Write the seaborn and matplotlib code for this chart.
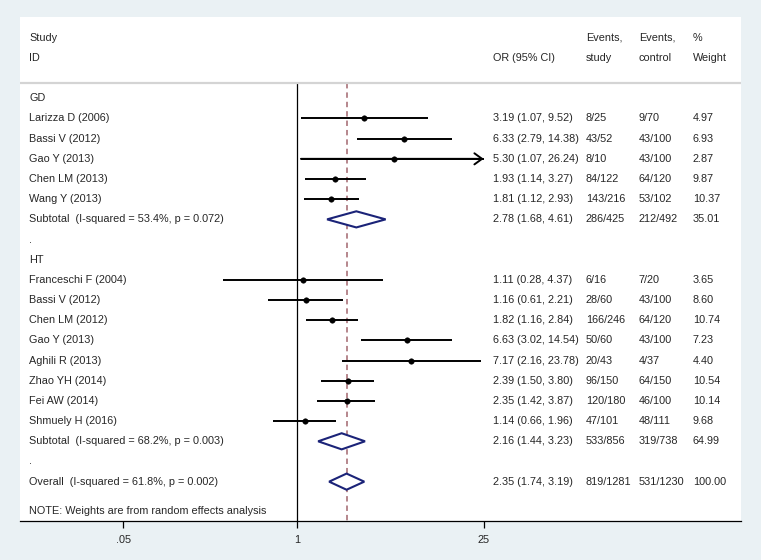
import numpy as np
import pandas as pd
import matplotlib
matplotlib.use('Agg')
import matplotlib.pyplot as plt
import seaborn as sns

# study level data
gd_names = ['Larizza D (2006)', 'Bassi V (2012)', 'Gao Y (2013)', 'Chen LM (2013)', 'Wang Y (2013)']
gd_or = [3.19, 6.33, 5.30, 1.93, 1.81]
gd_lo = [1.07, 2.79, 1.07, 1.14, 1.12]
gd_hi = [9.52, 14.38, 26.24, 3.27, 2.93]
gd_ev_study = ['8/25', '43/52', '8/10', '84/122', '143/216']
gd_ev_ctrl = ['9/70', '43/100', '43/100', '64/120', '53/102']
gd_weight = [4.97, 6.93, 2.87, 9.87, 10.37]

ht_names = ['Franceschi F (2004)', 'Bassi V (2012)', 'Chen LM (2012)', 'Gao Y (2013)', 'Aghili R (2013)',
            'Zhao YH (2014)', 'Fei AW (2014)', 'Shmuely H (2016)']
ht_or = [1.11, 1.16, 1.82, 6.63, 7.17, 2.39, 2.35, 1.14]
ht_lo = [0.28, 0.61, 1.16, 3.02, 2.16, 1.50, 1.42, 0.66]
ht_hi = [4.37, 2.21, 2.84, 14.54, 23.78, 3.80, 3.87, 1.96]
ht_ev_study = ['6/16', '28/60', '166/246', '50/60', '20/43', '96/150', '120/180', '47/101']
ht_ev_ctrl = ['7/20', '43/100', '64/120', '43/100', '4/37', '64/150', '46/100', '48/111']
ht_weight = [3.65, 8.60, 10.74, 7.23, 4.40, 10.54, 10.14, 9.68]

# pooled estimates
pooled_labels = ['Subtotal  (I-squared = 53.4%, p = 0.072)',
                 'Subtotal  (I-squared = 68.2%, p = 0.003)',
                 'Overall  (I-squared = 61.8%, p = 0.002)']
pooled_or = [2.78, 2.16, 2.35]
pooled_lo = [1.68, 1.44, 1.74]
pooled_hi = [4.61, 3.23, 3.19]
pooled_ev_study = ['286/425', '533/856', '819/1281']
pooled_ev_ctrl = ['212/492', '319/738', '531/1230']
pooled_weight = [35.01, 64.99, 100.00]

x_ticks = [0.05, 1, 25]
x_ticklabels = ['.05', '1', '25']

# build row table
rows = []
rows.append(dict(kind='head', label='GD'))
for i in range(len(gd_names)):
    rows.append(dict(kind='study', label=gd_names[i], est=gd_or[i], lo=gd_lo[i], hi=gd_hi[i],
                     es=gd_ev_study[i], ec=gd_ev_ctrl[i], w=gd_weight[i]))
rows.append(dict(kind='pool', label=pooled_labels[0], est=pooled_or[0], lo=pooled_lo[0], hi=pooled_hi[0],
                 es=pooled_ev_study[0], ec=pooled_ev_ctrl[0], w=pooled_weight[0]))
rows.append(dict(kind='head', label='.'))
rows.append(dict(kind='head', label='HT'))
for i in range(len(ht_names)):
    rows.append(dict(kind='study', label=ht_names[i], est=ht_or[i], lo=ht_lo[i], hi=ht_hi[i],
                     es=ht_ev_study[i], ec=ht_ev_ctrl[i], w=ht_weight[i]))
rows.append(dict(kind='pool', label=pooled_labels[1], est=pooled_or[1], lo=pooled_lo[1], hi=pooled_hi[1],
                 es=pooled_ev_study[1], ec=pooled_ev_ctrl[1], w=pooled_weight[1]))
rows.append(dict(kind='head', label='.'))
rows.append(dict(kind='pool', label=pooled_labels[2], est=pooled_or[2], lo=pooled_lo[2], hi=pooled_hi[2],
                 es=pooled_ev_study[2], ec=pooled_ev_ctrl[2], w=pooled_weight[2]))
df = pd.DataFrame(rows)
df['row'] = np.arange(len(df))

sns.set_style('white')
plt.rcParams['font.family'] = ['Liberation Sans', 'DejaVu Sans']
FS = 7.8

W, H = 761, 560
fig = plt.figure(figsize=(W / 100, H / 100), dpi=100, facecolor='#eaf1f4')
ax = fig.add_axes([20 / W, 39 / H, 721 / W, 504 / H])
ax.set_facecolor('white')

# x: log scale, 58 px per ln unit, OR=1 at px 297
ax.set_xscale('log')
ax.set_xlim(np.exp((20 - 297) / 58), np.exp((741 - 297) / 58))
ax.set_ylim(20.95, -4.03)

xmax_tick = max(x_ticks)
studies = df[df.kind == 'study']
hi_clip = np.minimum(studies.hi, xmax_tick)
ax.hlines(studies.row, studies.lo, hi_clip, color='black', lw=1.4, zorder=2)
for _, r in studies[studies.hi > xmax_tick].iterrows():
    ax.annotate('', xy=(xmax_tick, r.row), xytext=(r.lo, r.row),
                arrowprops=dict(arrowstyle='->,head_length=0.55,head_width=0.4', lw=1.4,
                                color='black', shrinkA=0, shrinkB=0))
sns.scatterplot(data=studies, x='est', y='row', color='black', s=16, edgecolor='black',
                linewidth=0.3, legend=False, ax=ax, zorder=3)

# pooled diamonds
for _, r in df[df.kind == 'pool'].iterrows():
    ax.fill([r.lo, r.est, r.hi, r.est], [r.row, r.row - 0.4, r.row, r.row + 0.4],
            facecolor='white', edgecolor='#1b2378', lw=1.5, zorder=3)

# reference lines
top_rule = -0.76
ax.vlines(1, top_rule, 20.95, color='black', lw=0.9, zorder=1)
overall_est = pooled_or[-1]
ax.vlines(overall_est, top_rule, 20.95, color='#b07d84', lw=1.3, linestyles=(0, (3, 2.2)), zorder=1)
ax.axhline(top_rule, color='#d4d4d4', lw=1.6, zorder=1)

# text columns
tr = ax.get_yaxis_transform()
col_label, col_or, col_es, col_ec, col_w = 0.0125, 0.6556, 0.785, 0.8585, 0.9334
ax.text(col_label, -3, 'Study', transform=tr, fontsize=FS, va='center')
ax.text(col_label, -2, 'ID', transform=tr, fontsize=FS, va='center')
ax.text(col_or, -2, 'OR (95% CI)', transform=tr, fontsize=FS, va='center')
ax.text(col_es, -3, 'Events,', transform=tr, fontsize=FS, va='center')
ax.text(col_es, -2, 'study', transform=tr, fontsize=FS, va='center')
ax.text(col_ec, -3, 'Events,', transform=tr, fontsize=FS, va='center')
ax.text(col_ec, -2, 'control', transform=tr, fontsize=FS, va='center')
ax.text(col_w, -3, '%', transform=tr, fontsize=FS, va='center')
ax.text(col_w, -2, 'Weight', transform=tr, fontsize=FS, va='center')

for _, r in df.iterrows():
    ax.text(col_label, r.row, r.label, transform=tr, fontsize=FS, va='center')
    if r.kind != 'head':
        ax.text(col_or, r.row, f'{r.est:.2f} ({r.lo:.2f}, {r.hi:.2f})', transform=tr, fontsize=FS, va='center')
        ax.text(col_es, r.row, r.es, transform=tr, fontsize=FS, va='center')
        ax.text(col_ec, r.row, r.ec, transform=tr, fontsize=FS, va='center')
        ax.text(col_w, r.row, f'{r.w:.2f}', transform=tr, fontsize=FS, va='center')

ax.text(col_label, 20.45, 'NOTE: Weights are from random effects analysis', transform=tr,
        fontsize=FS, va='center')

# axes styling
for side in ['left', 'right', 'top']:
    ax.spines[side].set_visible(False)
ax.spines['bottom'].set_color('black')
ax.spines['bottom'].set_linewidth(0.9)
ax.set_xticks(x_ticks)
ax.set_xticklabels(x_ticklabels, fontsize=FS)
ax.xaxis.set_minor_locator(matplotlib.ticker.NullLocator())
ax.tick_params(axis='x', bottom=True, length=5, width=0.9, color='black', pad=5)
ax.set_yticks([])
ax.set_xlabel('')
ax.set_ylabel('')

fig.savefig('out.png', dpi=100, facecolor=fig.get_facecolor())
